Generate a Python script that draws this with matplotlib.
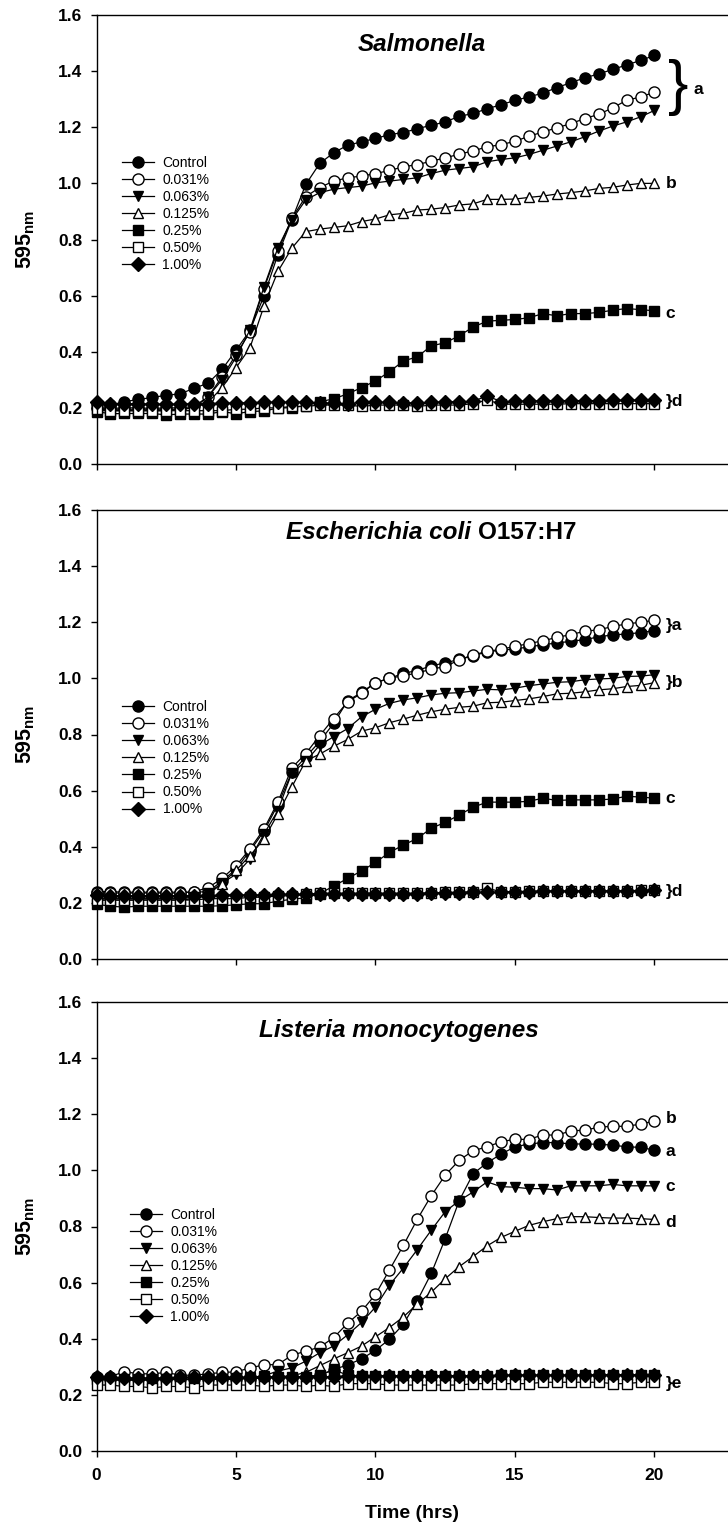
import numpy as np
import matplotlib
matplotlib.use("Agg")
import matplotlib.pyplot as plt

plt.rcParams['font.family'] = ['Liberation Sans', 'DejaVu Sans']
plt.rcParams['mathtext.fontset'] = 'custom'
plt.rcParams['mathtext.rm'] = 'Liberation Sans'
plt.rcParams['mathtext.bf'] = 'Liberation Sans:bold'

# ---------------- data ----------------
time = np.arange(0, 20.5, 0.5)
labels = ["Control", "0.031%", "0.063%", "0.125%", "0.25%", "0.50%", "1.00%"]

# Salmonella
sal_control = [0.215, 0.210, 0.222, 0.230, 0.237, 0.245, 0.250, 0.270, 0.288, 0.337,
               0.405, 0.476, 0.598, 0.746, 0.870, 0.996, 1.071, 1.109, 1.136, 1.148,
               1.160, 1.174, 1.181, 1.195, 1.207, 1.219, 1.239, 1.249, 1.266, 1.280,
               1.296, 1.308, 1.322, 1.341, 1.359, 1.376, 1.390, 1.406, 1.422, 1.438, 1.456]
sal_031 = [0.200, 0.198, 0.200, 0.200, 0.198, 0.200, 0.200, 0.205, 0.240, 0.310,
           0.390, 0.470, 0.625, 0.760, 0.875, 0.953, 0.985, 1.008, 1.020, 1.026,
           1.035, 1.046, 1.059, 1.067, 1.079, 1.091, 1.104, 1.116, 1.130, 1.138,
           1.150, 1.168, 1.183, 1.198, 1.213, 1.231, 1.246, 1.269, 1.296, 1.308, 1.325]
sal_063 = [0.195, 0.195, 0.195, 0.195, 0.195, 0.195, 0.195, 0.200, 0.240, 0.300,
           0.380, 0.478, 0.630, 0.770, 0.870, 0.941, 0.967, 0.979, 0.985, 0.990,
           1.002, 1.008, 1.014, 1.020, 1.035, 1.047, 1.053, 1.059, 1.077, 1.085,
           1.091, 1.103, 1.118, 1.133, 1.148, 1.166, 1.186, 1.204, 1.219, 1.237, 1.260]
sal_125 = [0.190, 0.190, 0.190, 0.190, 0.190, 0.190, 0.195, 0.200, 0.220, 0.272,
           0.343, 0.414, 0.562, 0.686, 0.769, 0.828, 0.837, 0.843, 0.849, 0.864,
           0.873, 0.888, 0.893, 0.905, 0.908, 0.914, 0.923, 0.927, 0.943, 0.943,
           0.944, 0.950, 0.955, 0.962, 0.967, 0.973, 0.982, 0.986, 0.994, 1.000, 1.000]
sal_25 = [0.187, 0.179, 0.180, 0.180, 0.180, 0.175, 0.178, 0.178, 0.178, 0.187,
          0.179, 0.187, 0.189, 0.199, 0.201, 0.208, 0.222, 0.232, 0.250, 0.272,
          0.296, 0.329, 0.367, 0.382, 0.421, 0.432, 0.457, 0.488, 0.509, 0.512,
          0.515, 0.521, 0.536, 0.528, 0.536, 0.536, 0.540, 0.548, 0.554, 0.550, 0.546]
sal_050 = [0.195, 0.190, 0.190, 0.190, 0.190, 0.190, 0.190, 0.190, 0.190, 0.190,
           0.195, 0.195, 0.200, 0.200, 0.205, 0.205, 0.210, 0.210, 0.210, 0.205,
           0.210, 0.210, 0.210, 0.205, 0.210, 0.210, 0.210, 0.215, 0.228, 0.213,
           0.213, 0.213, 0.213, 0.213, 0.215, 0.215, 0.215, 0.215, 0.215, 0.215, 0.215]
sal_100 = [0.220, 0.213, 0.215, 0.215, 0.213, 0.213, 0.213, 0.215, 0.215, 0.217,
           0.217, 0.219, 0.220, 0.220, 0.220, 0.220, 0.217, 0.217, 0.214, 0.220,
           0.220, 0.220, 0.219, 0.217, 0.220, 0.222, 0.222, 0.223, 0.243, 0.222,
           0.224, 0.224, 0.226, 0.226, 0.226, 0.226, 0.226, 0.227, 0.227, 0.228, 0.228]

# Escherichia coli O157:H7
eco_control = [0.240, 0.240, 0.238, 0.238, 0.238, 0.238, 0.238, 0.238, 0.240, 0.278,
               0.320, 0.385, 0.455, 0.550, 0.665, 0.720, 0.775, 0.840, 0.920, 0.950,
               0.985, 1.000, 1.018, 1.028, 1.045, 1.055, 1.068, 1.080, 1.095, 1.100,
               1.105, 1.112, 1.120, 1.126, 1.132, 1.138, 1.148, 1.155, 1.158, 1.163, 1.170]
eco_031 = [0.235, 0.235, 0.235, 0.235, 0.235, 0.235, 0.235, 0.240, 0.254, 0.287,
           0.332, 0.392, 0.463, 0.559, 0.681, 0.732, 0.796, 0.857, 0.916, 0.947,
           0.985, 1.000, 1.010, 1.019, 1.033, 1.042, 1.066, 1.084, 1.096, 1.104,
           1.114, 1.124, 1.134, 1.146, 1.156, 1.168, 1.173, 1.185, 1.194, 1.200, 1.207]
eco_063 = [0.215, 0.215, 0.215, 0.215, 0.215, 0.215, 0.215, 0.220, 0.235, 0.270,
           0.302, 0.356, 0.445, 0.529, 0.663, 0.704, 0.762, 0.792, 0.821, 0.863,
           0.890, 0.911, 0.923, 0.931, 0.941, 0.947, 0.949, 0.955, 0.961, 0.959,
           0.965, 0.974, 0.980, 0.986, 0.988, 0.995, 0.998, 1.000, 1.007, 1.008, 1.013]
eco_125 = [0.210, 0.210, 0.210, 0.210, 0.210, 0.210, 0.210, 0.215, 0.230, 0.269,
           0.316, 0.368, 0.427, 0.517, 0.613, 0.706, 0.730, 0.758, 0.782, 0.812,
           0.824, 0.842, 0.855, 0.869, 0.881, 0.890, 0.897, 0.901, 0.913, 0.915,
           0.921, 0.927, 0.935, 0.945, 0.947, 0.952, 0.959, 0.963, 0.971, 0.975, 0.985]
eco_25 = [0.195, 0.188, 0.185, 0.188, 0.188, 0.188, 0.188, 0.188, 0.188, 0.190,
          0.193, 0.197, 0.197, 0.206, 0.213, 0.218, 0.233, 0.260, 0.287, 0.314,
          0.344, 0.380, 0.406, 0.430, 0.466, 0.487, 0.513, 0.541, 0.559, 0.559,
          0.559, 0.562, 0.573, 0.565, 0.567, 0.567, 0.567, 0.570, 0.580, 0.577, 0.573]
eco_050 = [0.210, 0.210, 0.210, 0.210, 0.210, 0.210, 0.210, 0.210, 0.215, 0.215,
           0.215, 0.220, 0.220, 0.225, 0.225, 0.230, 0.235, 0.235, 0.235, 0.235,
           0.235, 0.235, 0.235, 0.235, 0.235, 0.238, 0.238, 0.240, 0.252, 0.240,
           0.240, 0.242, 0.242, 0.242, 0.242, 0.242, 0.243, 0.243, 0.243, 0.245, 0.245]
eco_100 = [0.228, 0.226, 0.226, 0.226, 0.226, 0.226, 0.226, 0.226, 0.226, 0.228,
           0.228, 0.228, 0.228, 0.230, 0.230, 0.230, 0.232, 0.232, 0.232, 0.232,
           0.232, 0.233, 0.233, 0.233, 0.235, 0.235, 0.236, 0.237, 0.238, 0.238,
           0.240, 0.240, 0.242, 0.242, 0.242, 0.243, 0.243, 0.243, 0.243, 0.244, 0.245]

# Listeria monocytogenes
lis_control = [0.262, 0.258, 0.255, 0.255, 0.255, 0.255, 0.255, 0.255, 0.255, 0.255,
               0.255, 0.258, 0.260, 0.262, 0.262, 0.265, 0.270, 0.290, 0.307, 0.328,
               0.359, 0.398, 0.452, 0.536, 0.633, 0.757, 0.892, 0.988, 1.027, 1.058,
               1.084, 1.094, 1.099, 1.099, 1.094, 1.094, 1.093, 1.090, 1.084, 1.082, 1.072]
lis_031 = [0.260, 0.265, 0.283, 0.275, 0.275, 0.280, 0.270, 0.270, 0.275, 0.280,
           0.282, 0.296, 0.307, 0.308, 0.341, 0.356, 0.370, 0.404, 0.455, 0.498,
           0.558, 0.645, 0.733, 0.826, 0.910, 0.983, 1.036, 1.070, 1.084, 1.102,
           1.111, 1.110, 1.127, 1.125, 1.141, 1.143, 1.154, 1.157, 1.157, 1.165, 1.176]
lis_063 = [0.255, 0.255, 0.255, 0.255, 0.255, 0.255, 0.255, 0.255, 0.258, 0.258,
           0.260, 0.262, 0.268, 0.285, 0.296, 0.320, 0.350, 0.374, 0.414, 0.458,
           0.513, 0.591, 0.652, 0.718, 0.787, 0.853, 0.892, 0.923, 0.959, 0.942,
           0.940, 0.935, 0.935, 0.930, 0.945, 0.945, 0.945, 0.950, 0.945, 0.945, 0.945]
lis_125 = [0.255, 0.255, 0.255, 0.255, 0.255, 0.255, 0.255, 0.255, 0.258, 0.258,
           0.258, 0.260, 0.262, 0.265, 0.268, 0.280, 0.304, 0.328, 0.350, 0.374,
           0.407, 0.440, 0.478, 0.524, 0.566, 0.614, 0.657, 0.693, 0.731, 0.761,
           0.783, 0.804, 0.817, 0.828, 0.835, 0.835, 0.832, 0.830, 0.830, 0.828, 0.825]
lis_25 = [0.255, 0.252, 0.252, 0.252, 0.252, 0.255, 0.255, 0.255, 0.258, 0.258,
          0.258, 0.260, 0.262, 0.262, 0.265, 0.265, 0.270, 0.290, 0.270, 0.268,
          0.268, 0.268, 0.268, 0.268, 0.268, 0.268, 0.268, 0.268, 0.268, 0.270,
          0.270, 0.270, 0.270, 0.270, 0.270, 0.270, 0.270, 0.272, 0.272, 0.272, 0.272]
lis_050 = [0.235, 0.235, 0.230, 0.230, 0.225, 0.230, 0.230, 0.225, 0.235, 0.235,
           0.235, 0.235, 0.230, 0.235, 0.235, 0.230, 0.235, 0.230, 0.240, 0.240,
           0.240, 0.235, 0.235, 0.235, 0.235, 0.235, 0.235, 0.240, 0.240, 0.240,
           0.240, 0.240, 0.245, 0.245, 0.245, 0.245, 0.245, 0.240, 0.240, 0.245, 0.245]
lis_100 = [0.265, 0.262, 0.260, 0.260, 0.260, 0.260, 0.262, 0.262, 0.262, 0.262,
           0.262, 0.262, 0.265, 0.265, 0.265, 0.265, 0.265, 0.265, 0.268, 0.268,
           0.268, 0.268, 0.268, 0.268, 0.268, 0.268, 0.268, 0.268, 0.268, 0.270,
           0.270, 0.270, 0.270, 0.270, 0.270, 0.270, 0.272, 0.272, 0.272, 0.272, 0.272]

series = [
    [sal_control, sal_031, sal_063, sal_125, sal_25, sal_050, sal_100],
    [eco_control, eco_031, eco_063, eco_125, eco_25, eco_050, eco_100],
    [lis_control, lis_031, lis_063, lis_125, lis_25, lis_050, lis_100],
]

# marker, face colour, size
markers = [('o', 'black', 8), ('o', 'white', 8), ('v', 'black', 7.5), ('^', 'white', 7.5),
           ('s', 'black', 7), ('s', 'white', 7), ('D', 'black', 6.8)]

# ---------------- figure ----------------
fig = plt.figure(figsize=(7.28, 15.27), dpi=100)
left, width = 96.5 / 728, (728 - 96.5) / 728
bottoms = [1 - 464 / 1527, 1 - 959 / 1527, 1 - 1451 / 1527]
height = 449 / 1527
xmax = (728 - 96.5) / 27.9

legend_pos = [(0.040, 0.557), (0.041, 0.447), (0.053, 0.412)]

axes = []
for i in range(3):
    ax = fig.add_axes([left, bottoms[i], width, height])
    axes.append(ax)
    for s, (m, fc, ms), lab in zip(series[i], markers, labels):
        ax.plot(time, s, marker=m, color='black', markerfacecolor=fc,
                markeredgecolor='black', markeredgewidth=1.0, markersize=ms,
                linewidth=0.9, label=lab, clip_on=False)

    ax.set_xlim(0, xmax)
    ax.set_ylim(0, 1.6)
    ax.set_xticks([0, 5, 10, 15, 20])
    ax.set_yticks(np.arange(0, 1.61, 0.2))
    ax.set_yticklabels(['%.1f' % v for v in np.arange(0, 1.61, 0.2)])
    ax.spines['right'].set_visible(False)
    for sp in ['left', 'bottom', 'top']:
        ax.spines[sp].set_linewidth(1.0)
    ax.tick_params(direction='out', length=4, width=1.0, labelsize=12.5, top=False, right=False)
    ax.tick_params(axis='y', pad=6)
    ax.tick_params(axis='x', pad=8)
    for lbl in ax.get_yticklabels() + ax.get_xticklabels():
        lbl.set_fontweight('bold')
    if i < 2:
        ax.set_xticklabels([])

    ax.set_ylabel('595$_{\\mathbf{nm}}$', fontsize=15.5, fontweight='bold')
    ax.yaxis.set_label_coords(-0.094, 0.5)

    ax.legend(loc='center left', bbox_to_anchor=legend_pos[i], frameon=False,
              fontsize=10, numpoints=1, handlelength=2.3, handletextpad=0.6,
              labelspacing=0.22, borderpad=0, borderaxespad=0)

axes[2].set_xlabel('Time (hrs)', fontsize=14, fontweight='bold', labelpad=16)

# titles
bold_it = dict(fontsize=17.5, fontweight='bold', fontstyle='italic')
axes[0].text(11.67, 1.496, 'Salmonella', ha='center', va='center', **bold_it)
t1 = axes[1].text(6.8, 1.52, 'Escherichia coli', ha='left', va='center', **bold_it)
axes[1].annotate('O157:H7', xy=(1, 0), xycoords=t1, xytext=(4.8, 0),
                 textcoords='offset points', ha='left', va='bottom',
                 fontsize=17.5, fontweight='bold')
axes[2].text(10.82, 1.50, 'Listeria monocytogenes', ha='center', va='center', **bold_it)

# significance letters
lt = dict(fontsize=12.5, fontweight='bold', ha='left', va='center')
ax = axes[0]
ax.text(20.5, 1.341, '}', fontsize=44, ha='left', va='center')
ax.text(21.4, 1.336, 'a', **lt)
ax.text(20.4, 1.0, 'b', **lt)
ax.text(20.4, 0.538, 'c', **lt)
ax.text(20.4, 0.222, '}d', **lt)

ax = axes[1]
ax.text(20.4, 1.19, '}a', **lt)
ax.text(20.4, 0.985, '}b', **lt)
ax.text(20.4, 0.573, 'c', **lt)
ax.text(20.4, 0.242, '}d', **lt)

ax = axes[2]
ax.text(20.4, 1.184, 'b', **lt)
ax.text(20.4, 1.066, 'a', **lt)
ax.text(20.4, 0.942, 'c', **lt)
ax.text(20.4, 0.8125, 'd', **lt)
ax.text(20.4, 0.241, '}e', **lt)

fig.savefig('out.png', dpi=100)
